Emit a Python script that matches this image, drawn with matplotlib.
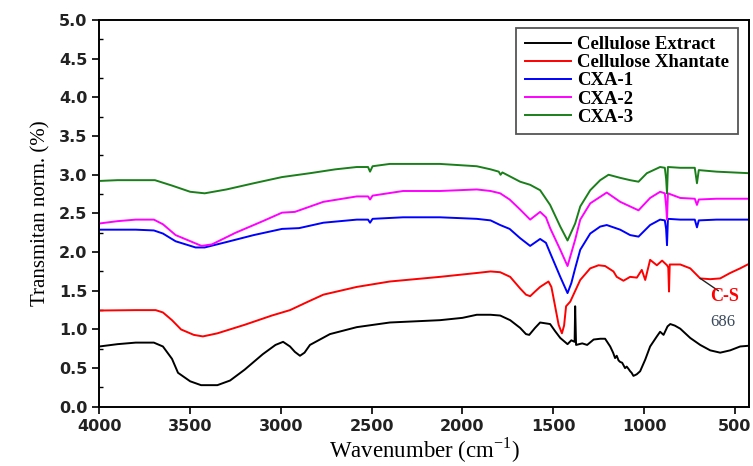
import matplotlib
matplotlib.use('Agg')
import matplotlib.pyplot as plt
from matplotlib.ticker import MultipleLocator

# FTIR spectra (wavenumber cm-1, transmittance norm.)
wn_extract = [4000, 3900, 3800, 3700, 3650, 3600, 3567, 3500, 3440, 3350, 3280, 3200,
              3100, 3030, 2988, 2950, 2923, 2895, 2870, 2840, 2730, 2582, 2400, 2124,
              2000, 1921, 1845, 1792, 1737, 1682, 1650, 1632, 1600, 1572, 1517, 1490,
              1461, 1421, 1400, 1382, 1379, 1374, 1340, 1313, 1277, 1240, 1214, 1186,
              1170, 1159, 1150, 1140, 1131, 1120, 1104, 1095, 1085, 1076, 1068, 1058,
              1040, 1021, 993, 966, 929, 911, 892, 870, 855, 830, 800, 745, 690, 635,
              580, 525, 470, 420]
t_extract = [0.78, 0.81, 0.83, 0.83, 0.78, 0.62, 0.44, 0.33, 0.28, 0.28, 0.34, 0.48,
             0.68, 0.80, 0.84, 0.78, 0.71, 0.66, 0.70, 0.80, 0.94, 1.03, 1.09, 1.12,
             1.15, 1.19, 1.19, 1.18, 1.12, 1.02, 0.94, 0.93, 1.02, 1.09, 1.07, 0.98,
             0.89, 0.81, 0.86, 0.84, 1.30, 0.80, 0.82, 0.80, 0.87, 0.88, 0.88, 0.78,
             0.70, 0.63, 0.66, 0.60, 0.58, 0.57, 0.50, 0.52, 0.49, 0.46, 0.44, 0.40,
             0.42, 0.46, 0.61, 0.78, 0.91, 0.97, 0.93, 1.04, 1.07, 1.05, 1.01, 0.89,
             0.80, 0.73, 0.70, 0.73, 0.78, 0.79]

wn_xanthate = [4000, 3800, 3690, 3650, 3600, 3550, 3480, 3430, 3350, 3200, 3050, 2950,
               2850, 2766, 2582, 2400, 2124, 1921, 1845, 1792, 1737, 1682, 1650, 1627,
               1600, 1572, 1526, 1510, 1500, 1470, 1452, 1440, 1429, 1406, 1351, 1296,
               1250, 1214, 1168, 1150, 1113, 1076, 1039, 1012, 993, 966, 929, 900, 873,
               866, 862, 858, 800, 745, 690, 635, 580, 525, 470, 420]
t_xanthate = [1.245, 1.25, 1.25, 1.22, 1.12, 1.00, 0.93, 0.91, 0.95, 1.06, 1.18, 1.25,
              1.36, 1.45, 1.55, 1.62, 1.68, 1.73, 1.75, 1.74, 1.68, 1.53, 1.45, 1.43,
              1.49, 1.55, 1.62, 1.55, 1.43, 1.06, 0.95, 1.05, 1.30, 1.36, 1.64, 1.79,
              1.83, 1.82, 1.75, 1.68, 1.63, 1.68, 1.67, 1.77, 1.64, 1.90, 1.83, 1.89,
              1.83, 1.80, 1.49, 1.84, 1.84, 1.79, 1.66, 1.65, 1.66, 1.73, 1.79, 1.85]

wn_cxa1 = [4000, 3800, 3700, 3650, 3580, 3470, 3420, 3300, 3150, 2994, 2900, 2766,
           2582, 2520, 2509, 2495, 2327, 2124, 1921, 1845, 1792, 1740, 1682, 1627,
           1572, 1540, 1517, 1461, 1421, 1400, 1379, 1351, 1296, 1241, 1205, 1131,
           1076, 1030, 966, 911, 885, 878, 873, 868, 800, 720, 708, 698, 600, 420]
t_cxa1 = [2.29, 2.29, 2.28, 2.24, 2.14, 2.06, 2.06, 2.13, 2.22, 2.30, 2.31, 2.38,
          2.42, 2.42, 2.38, 2.43, 2.45, 2.45, 2.43, 2.41, 2.35, 2.30, 2.18, 2.08,
          2.17, 2.12, 1.99, 1.68, 1.47, 1.60, 1.79, 2.03, 2.24, 2.33, 2.35, 2.29,
          2.22, 2.20, 2.35, 2.42, 2.41, 2.30, 2.09, 2.43, 2.42, 2.42, 2.32, 2.41,
          2.42, 2.42]

wn_cxa2 = [4000, 3900, 3800, 3700, 3650, 3580, 3437, 3380, 3250, 3100, 2994, 2923,
           2766, 2582, 2520, 2509, 2495, 2327, 2124, 1921, 1845, 1792, 1740, 1682,
           1627, 1572, 1540, 1517, 1461, 1421, 1379, 1351, 1296, 1205, 1131, 1076,
           1030, 966, 911, 885, 878, 873, 868, 800, 720, 708, 698, 600, 420]
t_cxa2 = [2.37, 2.40, 2.42, 2.42, 2.36, 2.22, 2.08, 2.10, 2.25, 2.40, 2.51, 2.52,
          2.65, 2.72, 2.72, 2.68, 2.73, 2.79, 2.79, 2.81, 2.79, 2.76, 2.68, 2.55,
          2.42, 2.52, 2.45, 2.31, 2.03, 1.82, 2.16, 2.42, 2.63, 2.77, 2.65, 2.59,
          2.54, 2.70, 2.78, 2.76, 2.60, 2.42, 2.76, 2.70, 2.69, 2.61, 2.68, 2.69, 2.69]

wn_cxa3 = [4000, 3900, 3694, 3600, 3500, 3420, 3300, 3150, 2994, 2840, 2700, 2582,
           2520, 2509, 2495, 2400, 2124, 1921, 1845, 1800, 1790, 1780, 1682, 1627,
           1572, 1517, 1461, 1421, 1379, 1351, 1296, 1241, 1195, 1131, 1076, 1030,
           984, 911, 885, 878, 873, 868, 800, 720, 708, 698, 600, 420]
t_cxa3 = [2.92, 2.93, 2.93, 2.86, 2.78, 2.76, 2.81, 2.89, 2.97, 3.02, 3.07, 3.10,
          3.10, 3.04, 3.11, 3.14, 3.14, 3.11, 3.07, 3.04, 3.00, 3.03, 2.91, 2.87,
          2.80, 2.61, 2.33, 2.15, 2.37, 2.59, 2.80, 2.93, 3.00, 2.96, 2.93, 2.91,
          3.02, 3.10, 3.09, 2.95, 2.76, 3.10, 3.09, 3.09, 2.89, 3.06, 3.04, 3.02]

labels = ['Cellulose Extract', 'Cellulose Xhantate', 'CXA-1', 'CXA-2', 'CXA-3']
colors = ['black', '#ff0000', '#0000ff', '#ff00ff', '#1a7f1a']
series = [(wn_extract, t_extract), (wn_xanthate, t_xanthate), (wn_cxa1, t_cxa1),
          (wn_cxa2, t_cxa2), (wn_cxa3, t_cxa3)]

serif = ['Liberation Serif', 'DejaVu Serif']

fig = plt.figure(figsize=(7.53, 4.66), dpi=100)
ax = fig.add_axes([0.132, 0.127, 0.863, 0.830])

for (wn, t), lab, col in zip(series, labels, colors):
    ax.plot(wn, t, color=col, lw=1.4, label=lab)

ax.set_xlim(4000, 420)
ax.set_ylim(0, 5.0)
ax.xaxis.set_major_locator(MultipleLocator(500))
ax.yaxis.set_major_locator(MultipleLocator(0.5))
ax.yaxis.set_minor_locator(MultipleLocator(0.25))
ax.yaxis.set_major_formatter(plt.FormatStrFormatter('%.1f'))
ax.tick_params(axis='both', which='major', direction='out', length=5, width=1.2,
               labelsize=11.5, labelcolor='#222222')
ax.tick_params(axis='y', which='minor', direction='in', length=3, width=1.0)
for lbl in ax.get_xticklabels() + ax.get_yticklabels():
    lbl.set_fontweight('bold')
for sp in ax.spines.values():
    sp.set_linewidth(1.4)

ax.set_xlabel(r'Wavenumber (cm$^{\mathregular{-1}}$)', fontsize=16.5, family=serif,
              labelpad=1)
ax.set_ylabel('Transmitan norm. (%)', fontsize=15, family=serif, labelpad=6)

# C-S band annotation: leader line from the band to the label
ax.annotate('', xy=(690, 1.66), xytext=(590, 1.50),
            arrowprops=dict(arrowstyle='-', color='#222222', lw=1.0,
                            shrinkA=0, shrinkB=0))
ax.text(555, 1.42, 'C-S', color='#ff0000', fontsize=13, fontweight='bold',
        family=serif, ha='center', va='center')
ax.text(568, 1.09, '686', fontsize=12, color='#3b4a5c', family=serif,
        ha='center', va='center')

leg = ax.legend(loc='upper right', bbox_to_anchor=(0.982, 0.98), fancybox=False,
                edgecolor='#555555', framealpha=1, borderaxespad=0,
                prop={'family': serif, 'weight': 'bold', 'size': 13.5},
                handlelength=2.5, handletextpad=0.3, labelspacing=0.05,
                borderpad=0.45)
leg.get_frame().set_linewidth(1.3)

fig.savefig('out.png', dpi=100, facecolor='white')
